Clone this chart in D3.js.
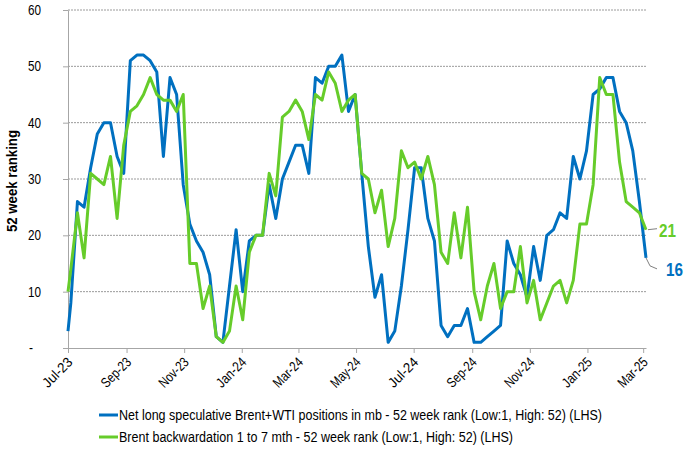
<!DOCTYPE html>
<html>
<head>
<meta charset="utf-8">
<script src="https://cdn.jsdelivr.net/npm/d3@7"></script>
<style>
  html, body { margin: 0; padding: 0; background: #fff; }
  svg { display: block; }
  text { font-family: "Liberation Sans", Arial, sans-serif; fill: #000; }
</style>
</head>
<body>
<svg id="chart" width="700" height="457"></svg>
<script>
// ---- data ----
const firstDate = "2023-07-01";      // first observation
const weeklyStart = "2023-07-04";    // weekly observations from here on
const tickLabels = ["Jul-23","Sep-23","Nov-23","Jan-24","Mar-24","May-24","Jul-24","Sep-24","Nov-24","Jan-25","Mar-25"];
const yTicks = [0, 10, 20, 30, 40, 50, 60];

const netLongRank = [3, 8, 26, 25, 32, 38, 40, 40, 34, 31, 51, 52, 52, 51, 49, 34, 48, 45, 29, 22,
  19, 17, 13, 2, 1, 11, 21, 10, 19, 20, 20, 29, 23, 30, 33, 36, 36, 31, 48, 47,
  50, 50, 52, 42, 45, 31, 18, 9, 13, 1, 3, 11, 21, 32, 32, 23, 19, 4, 2, 4,
  4, 7, 1, 1, 2, 3, 4, 19, 15, 13, 9, 18, 12, 20, 21, 24, 23, 34, 30, 35,
  45, 46, 48, 48, 42, 40, 35, 26, 16];

const backwardationRank = [10, 14, 24, 16, 31, 30, 29, 34, 23, 36, 42, 43, 45, 48, 45, 44, 44, 42, 45, 15,
  15, 7, 11, 2, 1, 3, 11, 5, 17, 20, 20, 31, 27, 41, 42, 44, 42, 37, 45, 44,
  49, 47, 42, 44, 45, 31, 30, 24, 28, 18, 23, 35, 32, 33, 30, 34, 29, 17, 15, 24,
  16, 25, 10, 5, 11, 15, 7, 10, 10, 18, 8, 12, 5, 8, 11, 12, 8, 12, 22, 22,
  29, 48, 45, 45, 33, 26, 25, 24, 21];

const seriesNames = [
  "Net long speculative Brent+WTI positions in mb - 52 week rank (Low:1, High: 52) (LHS)",
  "Brent backwardation 1 to 7 mth - 52 week rank (Low:1, High: 52) (LHS)"
];
const seriesColors = ["#0070C0", "#66CC2A"];
const yTitle = "52 week ranking";

// ---- build dates ----
const parse = d3.timeParse("%Y-%m-%d");
const d0 = parse(firstDate), w0 = parse(weeklyStart);
const dates = [d0];
for (let i = 1; i < netLongRank.length; i++) dates.push(d3.timeDay.offset(w0, 7 * (i - 1)));

const svg = d3.select("#chart");
const L = 68, R = 646, T = 10, B = 348;

const x = d3.scaleTime().domain([d0, dates[dates.length - 1]]).range([L, R]);
const y = d3.scaleLinear().domain([0, 60]).range([B, T]);

const axisColor = "#A6A6A6";

// gridlines
svg.append("g").selectAll("line").data(yTicks.filter(v => v > 0)).join("line")
  .attr("x1", L).attr("x2", R)
  .attr("y1", d => y(d)).attr("y2", d => y(d))
  .attr("stroke", "#9a9a9a").attr("stroke-width", 1).attr("stroke-dasharray", "2 1");

// y axis (line + ticks via d3 axis, labels placed explicitly)
const yAxis = svg.append("g").attr("transform", `translate(${L},0)`)
  .call(d3.axisLeft(y).tickValues(yTicks).tickSize(5).tickSizeOuter(0).tickFormat(""));
yAxis.select(".domain").attr("stroke", axisColor);
yAxis.selectAll(".tick line").attr("stroke", axisColor);
svg.append("g").selectAll("text").data(yTicks).join("text")
  .attr("x", d => d === 0 ? 33 : 41)
  .attr("y", d => y(d) + 5)
  .attr("text-anchor", "end")
  .attr("font-size", 15)
  .attr("textLength", d => d === 0 ? 4 : 13)
  .attr("lengthAdjust", "spacingAndGlyphs")
  .text(d => d === 0 ? "-" : d);

// x axis
const tickDates = tickLabels.map(s => d3.timeParse("%b-%y")(s));
const xAxis = svg.append("g").attr("transform", `translate(0,${B})`)
  .call(d3.axisBottom(x).tickValues(tickDates).tickSize(5).tickSizeOuter(0)
    .tickFormat((d, i) => tickLabels[i]));
xAxis.select(".domain").attr("stroke", axisColor);
xAxis.selectAll(".tick line").attr("stroke", axisColor);
xAxis.selectAll(".tick text")
  .attr("font-size", 14).attr("fill", "#000")
  .attr("text-anchor", "end")
  .attr("dy", 0).attr("y", 0)
  .attr("textLength", 36).attr("lengthAdjust", "spacingAndGlyphs")
  .attr("transform", "translate(5,15) rotate(-45)");

// y title
svg.append("text")
  .attr("transform", `translate(17,${(T + B) / 2 + 2}) rotate(-90)`)
  .attr("text-anchor", "middle")
  .attr("font-size", 14).attr("font-weight", "bold")
  .attr("textLength", 102).attr("lengthAdjust", "spacingAndGlyphs")
  .text(yTitle);

// lines
const series = [netLongRank, backwardationRank];
const line = d3.line().x((d, i) => x(dates[i])).y(d => y(d));
[0, 1].forEach(k => {
  svg.append("path").datum(series[k])
    .attr("d", line)
    .attr("fill", "none")
    .attr("stroke", seriesColors[k])
    .attr("stroke-width", 3)
    .attr("stroke-linejoin", "round");
});

// end labels with leader lines
const lastI = dates.length - 1;
const xe = x(dates[lastI]);
const yg = y(backwardationRank[lastI]);
svg.append("path")
  .attr("d", `M${xe + 2},${yg} L${xe + 11},${yg - 1}`)
  .attr("stroke", "#808080").attr("fill", "none").attr("stroke-width", 1);
svg.append("text").attr("x", xe + 13).attr("y", yg + 7)
  .attr("font-size", 19).attr("font-weight", "bold")
  .attr("textLength", 17).attr("lengthAdjust", "spacingAndGlyphs")
  .style("fill", seriesColors[1])
  .text(backwardationRank[lastI]);
const yb = y(netLongRank[lastI]);
svg.append("path")
  .attr("d", `M${xe},${yb} L${xe + 4},${yb + 8} L${xe + 11},${yb + 11}`)
  .attr("stroke", "#808080").attr("fill", "none").attr("stroke-width", 1);
svg.append("text").attr("x", xe + 20).attr("y", yb + 18)
  .attr("font-size", 19).attr("font-weight", "bold")
  .attr("textLength", 17).attr("lengthAdjust", "spacingAndGlyphs")
  .style("fill", seriesColors[0])
  .text(netLongRank[lastI]);

// legend
const legendLengths = [483, 394];
const legend = svg.append("g");
seriesNames.forEach((name, k) => {
  const ly = 415 + k * 22;
  legend.append("line").attr("x1", 99).attr("x2", 118).attr("y1", ly).attr("y2", ly)
    .attr("stroke", seriesColors[k]).attr("stroke-width", 3);
  legend.append("text").attr("x", 119).attr("y", ly + 5)
    .attr("font-size", 14)
    .attr("textLength", legendLengths[k]).attr("lengthAdjust", "spacingAndGlyphs")
    .text(name);
});
</script>
</body>
</html>
